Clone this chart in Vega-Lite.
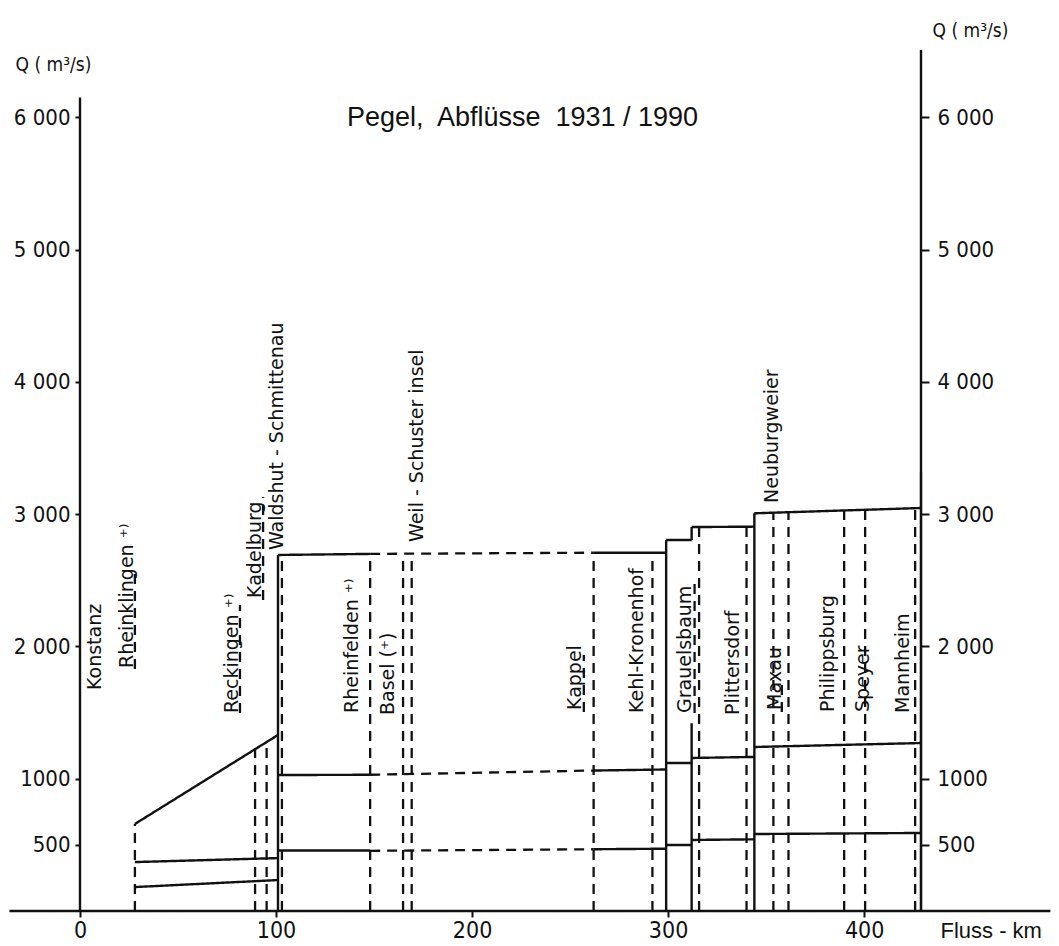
{
  "$schema": "https://vega.github.io/schema/vega-lite/v6.json",
  "width": 841,
  "height": 861,
  "autosize": {"type": "none"},
  "padding": {"left": 80, "top": 50, "right": 138, "bottom": 35},
  "background": "white",
  "title": {
    "text": "Pegel,\u00a0 Abflüsse\u00a0 1931 / 1990",
    "font": "Liberation Sans",
    "fontSize": 27,
    "fontWeight": "normal",
    "color": "#111",
    "anchor": "middle",
    "frame": "group",
    "baseline": "middle",
    "offset": 0,
    "dy": 124,
    "dx": 22
  },
  "config": {
    "view": {"stroke": null},
    "axis": {
      "domain": false,
      "grid": false,
      "tickColor": "#111",
      "tickWidth": 2,
      "labelColor": "#111",
      "titleColor": "#111",
      "labelFlush": false,
      "labelFont": "'Liberation Sans Narrow', 'DejaVu Sans Condensed', sans-serif",
      "titleFont": "'Liberation Sans Narrow', 'DejaVu Sans Condensed', sans-serif",
      "titleFontWeight": "normal"
    }
  },
  "datasets": {
    "segments": [
      {"x": -36, "x2": 495, "q": 0, "q2": 0, "s": "solid"},
      {"x": 0, "x2": 0, "q": 0, "q2": 6150, "s": "solid"},
      {"x": 429, "x2": 429, "q": 0, "q2": 6510, "s": "solid"},
      {"x": 429, "x2": 429, "q": 0, "q2": 3320, "s": "thick"},
      {"x": 28, "x2": 101, "q": 658, "q2": 1331, "s": "solid"},
      {"x": 28, "x2": 101, "q": 370, "q2": 400, "s": "solid"},
      {"x": 28, "x2": 101, "q": 181, "q2": 234, "s": "solid"},
      {"x": 101, "x2": 101, "q": 0, "q2": 2692, "s": "solid"},
      {"x": 299, "x2": 299, "q": 0, "q2": 2805, "s": "solid"},
      {"x": 312, "x2": 312, "q": 0, "q2": 1420, "s": "solid"},
      {"x": 312, "x2": 312, "q": 2805, "q2": 2903, "s": "solid"},
      {"x": 344, "x2": 344, "q": 0, "q2": 3007, "s": "solid"},
      {"x": 101, "x2": 148, "q": 2692, "q2": 2700, "s": "solid"},
      {"x": 148, "x2": 262, "q": 2700, "q2": 2709, "s": "dashed"},
      {"x": 262, "x2": 299, "q": 2709, "q2": 2709, "s": "solid"},
      {"x": 299, "x2": 312, "q": 2805, "q2": 2805, "s": "solid"},
      {"x": 312, "x2": 344, "q": 2903, "q2": 2906, "s": "solid"},
      {"x": 344, "x2": 429, "q": 3007, "q2": 3047, "s": "solid"},
      {"x": 101, "x2": 148, "q": 1028, "q2": 1030, "s": "solid"},
      {"x": 148, "x2": 262, "q": 1030, "q2": 1062, "s": "dashed"},
      {"x": 262, "x2": 299, "q": 1062, "q2": 1070, "s": "solid"},
      {"x": 299, "x2": 312, "q": 1119, "q2": 1119, "s": "solid"},
      {"x": 312, "x2": 344, "q": 1157, "q2": 1165, "s": "solid"},
      {"x": 344, "x2": 429, "q": 1240, "q2": 1270, "s": "solid"},
      {"x": 101, "x2": 148, "q": 458, "q2": 458, "s": "solid"},
      {"x": 148, "x2": 262, "q": 455, "q2": 467, "s": "dashed"},
      {"x": 262, "x2": 299, "q": 467, "q2": 471, "s": "solid"},
      {"x": 299, "x2": 312, "q": 499, "q2": 499, "s": "solid"},
      {"x": 312, "x2": 344, "q": 537, "q2": 542, "s": "solid"},
      {"x": 344, "x2": 429, "q": 582, "q2": 590, "s": "solid"},
      {"x": 28, "x2": 28, "q": 0, "q2": 658, "s": "dashed"},
      {"x": 89.3, "x2": 89.3, "q": 0, "q2": 1232, "s": "dashed"},
      {"x": 95.2, "x2": 95.2, "q": 0, "q2": 1278, "s": "dashed"},
      {"x": 103, "x2": 103, "q": 0, "q2": 2692, "s": "dashed"},
      {"x": 148, "x2": 148, "q": 0, "q2": 2700, "s": "dashed"},
      {"x": 164.8, "x2": 164.8, "q": 0, "q2": 2700, "s": "dashed"},
      {"x": 169.2, "x2": 169.2, "q": 0, "q2": 2700, "s": "dashed"},
      {"x": 262, "x2": 262, "q": 0, "q2": 2709, "s": "dashed"},
      {"x": 292, "x2": 292, "q": 0, "q2": 2709, "s": "dashed"},
      {"x": 315.8, "x2": 315.8, "q": 0, "q2": 2903, "s": "dashed"},
      {"x": 340, "x2": 340, "q": 0, "q2": 2906, "s": "dashed"},
      {"x": 353.7, "x2": 353.7, "q": 0, "q2": 3010, "s": "dashed"},
      {"x": 361.4, "x2": 361.4, "q": 0, "q2": 3012, "s": "dashed"},
      {"x": 389.8, "x2": 389.8, "q": 0, "q2": 3025, "s": "dashed"},
      {"x": 400.5, "x2": 400.5, "q": 0, "q2": 3030, "s": "dashed"},
      {"x": 426, "x2": 426, "q": 0, "q2": 3045, "s": "dashed"},
      {"x": 28, "x2": 28, "q": 1830, "q2": 2600, "s": "dashed"},
      {"x": 81.6, "x2": 81.6, "q": 1497, "q2": 2314, "s": "dashed"},
      {"x": 93.4, "x2": 93.4, "q": 2351, "q2": 3130, "s": "dashed"},
      {"x": 257, "x2": 257, "q": 1505, "q2": 1935, "s": "dashed"},
      {"x": 358, "x2": 358, "q": 1505, "q2": 1709, "s": "dashed"},
      {"x": 313.5, "x2": 313.5, "q": 1497, "q2": 2480, "s": "dashed"}
    ],
    "stations": [
      {"label": "Konstanz", "km": 7.7, "q": 1671},
      {"label": "Rheinklingen ⁺⁾", "km": 24, "q": 1837},
      {"label": "Reckingen ⁺⁾", "km": 77.5, "q": 1497},
      {"label": "Kadelburg", "km": 89.3, "q": 2367},
      {"label": "Waldshut - Schmittenau", "km": 100.5, "q": 2729},
      {"label": "Rheinfelden ⁺⁾", "km": 138.8, "q": 1497},
      {"label": "Basel (⁺)", "km": 157.1, "q": 1482},
      {"label": "Weil - Schuster insel", "km": 171.9, "q": 2790},
      {"label": "Kappel", "km": 252.6, "q": 1520},
      {"label": "Kehl-Kronenhof", "km": 284.2, "q": 1497},
      {"label": "Grauelsbaum", "km": 308.7, "q": 1497},
      {"label": "Plittersdorf", "km": 333.2, "q": 1482},
      {"label": "Maxau", "km": 354.6, "q": 1520},
      {"label": "Neuburgweier", "km": 353.1, "q": 3085},
      {"label": "Philippsburg", "km": 381.6, "q": 1505},
      {"label": "Speyer", "km": 399.5, "q": 1505},
      {"label": "Mannheim", "km": 419.9, "q": 1497}
    ]
  },
  "layer": [
    {
      "data": {"name": "segments"},
      "mark": {"type": "rule", "color": "#111", "strokeCap": "butt"},
      "encoding": {
        "x": {
          "field": "x", "type": "quantitative",
          "scale": {"domain": [0, 429], "nice": false, "zero": false},
          "axis": {
            "values": [0, 100, 200, 300, 400],
            "tickSize": 6,
            "labelPadding": 2,
            "labelFontSize": 23,
            "title": "Fluss - km",
            "titleFont": "Liberation Sans",
            "titleFontSize": 22,
            "titleAlign": "left",
            "titleBaseline": "middle",
            "titleX": 860,
            "titleY": 19
          }
        },
        "x2": {"field": "x2"},
        "y": {
          "field": "q", "type": "quantitative",
          "scale": {"domain": [0, 6510], "nice": false, "zero": true},
          "axis": {
            "orient": "left",
            "values": [500, 1000, 2000, 3000, 4000, 5000, 6000],
            "labelExpr": "datum.value >= 2000 ? replace(format(datum.value, ','), ',', ' ') : format(datum.value, 'd')",
            "tickSize": 5,
            "labelPadding": 5,
            "labelFontSize": 22,
            "title": "Q ( m³/s)",
            "titleFontSize": 19,
            "titleAngle": 0,
            "titleAlign": "left",
            "titleBaseline": "middle",
            "titleX": -65,
            "titleY": 14
          }
        },
        "y2": {"field": "q2"},
        "strokeDash": {
          "field": "s", "type": "nominal",
          "scale": {"domain": ["solid", "dashed", "thick"], "range": [[1, 0], [10, 7], [1, 0]]},
          "legend": null
        },
        "strokeWidth": {
          "field": "s", "type": "nominal",
          "scale": {"domain": ["solid", "dashed", "thick"], "range": [2.4, 2.2, 3.6]},
          "legend": null
        }
      }
    },
    {
      "data": {"name": "stations"},
      "mark": {
        "type": "text",
        "angle": 270,
        "align": "left",
        "baseline": "middle",
        "font": "DejaVu Sans",
        "fontSize": 19,
        "color": "#111"
      },
      "encoding": {
        "x": {"field": "km", "type": "quantitative"},
        "y": {
          "field": "q", "type": "quantitative",
          "axis": {
            "orient": "right",
            "values": [500, 1000, 2000, 3000, 4000, 5000, 6000],
            "labelExpr": "datum.value >= 2000 ? replace(format(datum.value, ','), ',', ' ') : format(datum.value, 'd')",
            "tickSize": 8,
            "labelPadding": 8,
            "labelFontSize": 22,
            "title": "Q ( m³/s)",
            "titleFontSize": 19,
            "titleAngle": 0,
            "titleAlign": "left",
            "titleBaseline": "middle",
            "titleX": 11,
            "titleY": -20
          }
        },
        "text": {"field": "label"}
      }
    }
  ],
  "resolve": {"scale": {"y": "shared", "x": "shared"}, "axis": {"y": "independent"}}
}
